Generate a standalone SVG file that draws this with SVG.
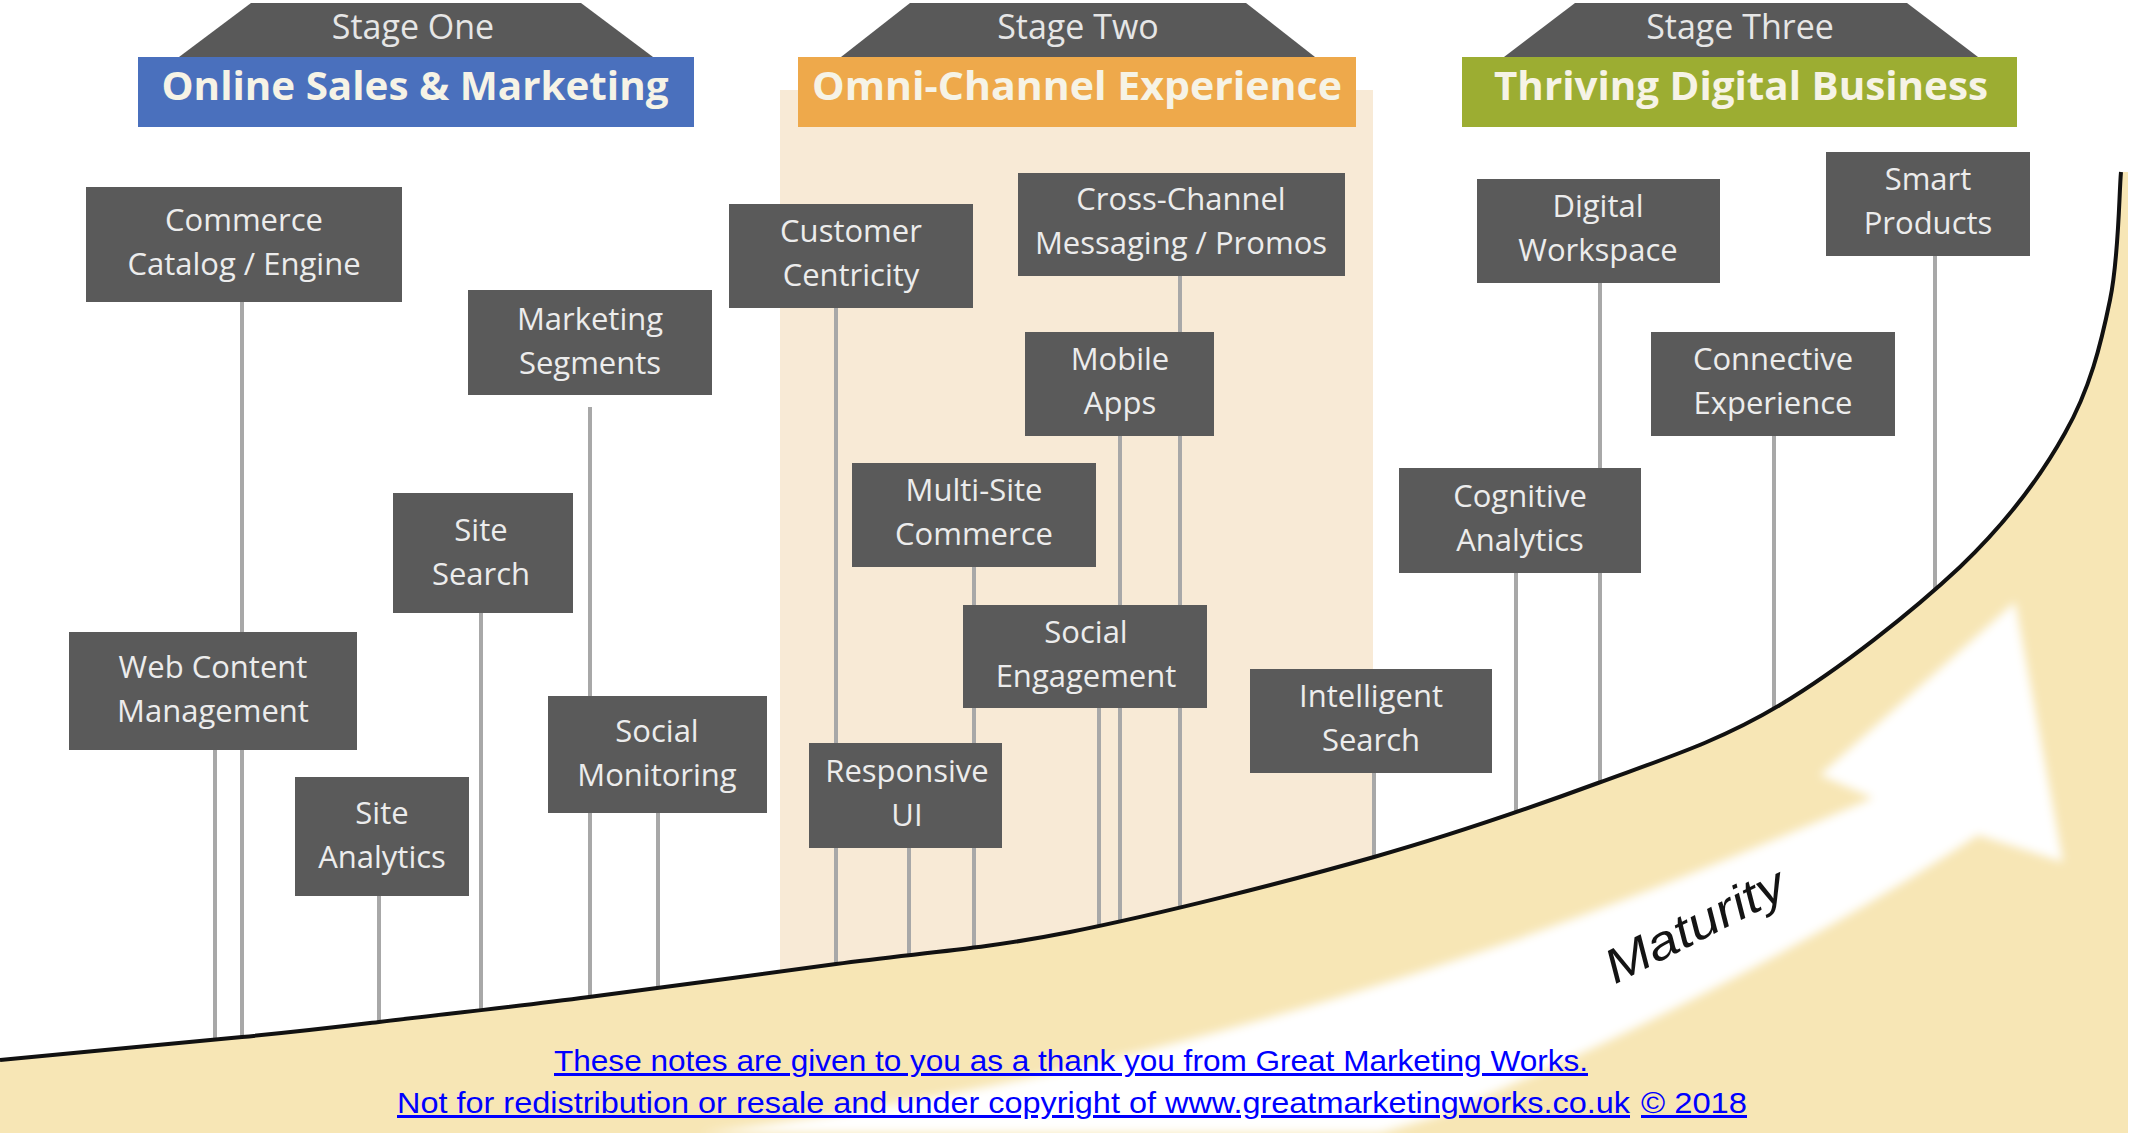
<svg xmlns="http://www.w3.org/2000/svg" width="2136" height="1141" viewBox="0 0 2136 1141">
<defs>
<style>
.box{fill:#5a5a5a}
.bt{font-family:"Open Sans","Liberation Sans",sans-serif;font-size:31px;fill:#ececec;text-anchor:middle}
.trap{fill:#595959}
.st{font-family:"Open Sans","Liberation Sans",sans-serif;font-size:34px;fill:#e6e6e6;text-anchor:middle}
.ht{font-family:"Open Sans","Liberation Sans",sans-serif;font-size:40px;font-weight:bold;fill:#f6f3e6;text-anchor:middle}
.ln{stroke:#a8a8a8;stroke-width:4;fill:none}
.ft{font-family:"Liberation Sans","Open Sans",sans-serif;font-size:30px;fill:#0000ff;text-decoration:underline}
</style>
<filter id="soft" x="-10%" y="-10%" width="120%" height="120%"><feGaussianBlur stdDeviation="5"/></filter>
</defs>
<rect x="0" y="0" width="2136" height="1141" fill="#ffffff"/>
<rect id="stage-two-panel" x="780" y="90" width="593" height="960" fill="#f8ead6"/>
<g id="connectors">
<line class="ln" x1="242" y1="302" x2="242" y2="1100"/>
<line class="ln" x1="215" y1="750" x2="215" y2="1100"/>
<line class="ln" x1="379" y1="896" x2="379" y2="1100"/>
<line class="ln" x1="481" y1="613" x2="481" y2="1100"/>
<line class="ln" x1="590" y1="407" x2="590" y2="1100"/>
<line class="ln" x1="658" y1="813" x2="658" y2="1100"/>
<line class="ln" x1="836" y1="308" x2="836" y2="1100"/>
<line class="ln" x1="909" y1="848" x2="909" y2="1100"/>
<line class="ln" x1="974" y1="567" x2="974" y2="1100"/>
<line class="ln" x1="1099" y1="708" x2="1099" y2="1100"/>
<line class="ln" x1="1120" y1="436" x2="1120" y2="1100"/>
<line class="ln" x1="1180" y1="276" x2="1180" y2="1100"/>
<line class="ln" x1="1374" y1="773" x2="1374" y2="1100"/>
<line class="ln" x1="1516" y1="573" x2="1516" y2="1100"/>
<line class="ln" x1="1600" y1="283" x2="1600" y2="1100"/>
<line class="ln" x1="1774" y1="436" x2="1774" y2="1100"/>
<line class="ln" x1="1935" y1="256" x2="1935" y2="1100"/>
</g>
<path id="maturity-fill" d="M0,1060 C40,1056 179,1043 242,1037 C305,1031 321,1029 379,1022 C437,1015 513,1007 589,997 C665,987 756,975 836,964 C916,953 980,950 1070,932 C1160,914 1286,882 1374,857 C1462,832 1530,808 1598,783 C1666,758 1720,741 1780,705 C1840,669 1912,612 1960,567 C2007,522 2040,478 2065,433 C2090,389 2101,344 2110,300 C2119,257 2119,193 2121,172 L2128,172 L2128,1133 L0,1133 Z" fill="#f7e6b5"/>
<path id="maturity-arrow" d="M700,1133 C900,1110 1150,1060 1435,967 C1600,913 1740,855 1873,798 L1820,775 L2015,602 L2063,862 L1978,835 C1850,920 1650,1030 1435,1117 L1380,1133 Z" fill="#ffffff" filter="url(#soft)"/>
<path id="maturity-curve" d="M0,1060 C40,1056 179,1043 242,1037 C305,1031 321,1029 379,1022 C437,1015 513,1007 589,997 C665,987 756,975 836,964 C916,953 980,950 1070,932 C1160,914 1286,882 1374,857 C1462,832 1530,808 1598,783 C1666,758 1720,741 1780,705 C1840,669 1912,612 1960,567 C2007,522 2040,478 2065,433 C2090,389 2101,344 2110,300 C2119,257 2119,193 2121,172" fill="none" stroke="#111111" stroke-width="4"/>
<text x="1702" y="940" transform="rotate(-27 1702 940)" font-family="'Liberation Sans','Open Sans',sans-serif" font-style="italic" font-size="48" fill="#141414" text-anchor="middle" textLength="196" lengthAdjust="spacingAndGlyphs">Maturity</text>

<g id="stage-one">
<polygon class="trap" points="251,3 581,3 653,57 179,57"/>
<text class="st" x="413" y="39">Stage One</text>
<rect x="138" y="57" width="556" height="70" fill="#4a70bd"/>
<text class="ht" x="415" y="100" textLength="507" lengthAdjust="spacingAndGlyphs">Online Sales &amp; Marketing</text>
</g>
<g id="stage-two">
<polygon class="trap" points="910,3 1246,3 1315,57 841,57"/>
<text class="st" x="1078" y="39">Stage Two</text>
<rect x="798" y="57" width="558" height="70" fill="#eea94b"/>
<text class="ht" x="1077" y="100" textLength="530" lengthAdjust="spacingAndGlyphs">Omni-Channel Experience</text>
</g>
<g id="stage-three">
<polygon class="trap" points="1575,3 1907,3 1978,57 1504,57"/>
<text class="st" x="1740" y="39">Stage Three</text>
<rect x="1462" y="57" width="555" height="70" fill="#9cad32"/>
<text class="ht" x="1741" y="100" textLength="494" lengthAdjust="spacingAndGlyphs">Thriving Digital Business</text>
</g>

<g id="commerce-catalog-engine"><rect class="box" x="86" y="187" width="316" height="115"/><text class="bt" x="244" y="231">Commerce</text><text class="bt" x="244" y="275">Catalog / Engine</text></g>
<g id="marketing-segments"><rect class="box" x="468" y="290" width="244" height="105"/><text class="bt" x="590" y="330">Marketing</text><text class="bt" x="590" y="374">Segments</text></g>
<g id="site-search"><rect class="box" x="393" y="493" width="180" height="120"/><text class="bt" x="481" y="541">Site</text><text class="bt" x="481" y="585">Search</text></g>
<g id="web-content-management"><rect class="box" x="69" y="632" width="288" height="118"/><text class="bt" x="213" y="678">Web Content</text><text class="bt" x="213" y="722">Management</text></g>
<g id="site-analytics"><rect class="box" x="295" y="777" width="174" height="119"/><text class="bt" x="382" y="824">Site</text><text class="bt" x="382" y="868">Analytics</text></g>
<g id="social-monitoring"><rect class="box" x="548" y="696" width="219" height="117"/><text class="bt" x="657" y="742">Social</text><text class="bt" x="657" y="786">Monitoring</text></g>
<g id="customer-centricity"><rect class="box" x="729" y="204" width="244" height="104"/><text class="bt" x="851" y="242">Customer</text><text class="bt" x="851" y="286">Centricity</text></g>
<g id="cross-channel-messaging"><rect class="box" x="1018" y="173" width="327" height="103"/><text class="bt" x="1181" y="210">Cross-Channel</text><text class="bt" x="1181" y="254">Messaging / Promos</text></g>
<g id="mobile-apps"><rect class="box" x="1025" y="332" width="189" height="104"/><text class="bt" x="1120" y="370">Mobile</text><text class="bt" x="1120" y="414">Apps</text></g>
<g id="multi-site-commerce"><rect class="box" x="852" y="463" width="244" height="104"/><text class="bt" x="974" y="501">Multi-Site</text><text class="bt" x="974" y="545">Commerce</text></g>
<g id="social-engagement"><rect class="box" x="963" y="605" width="244" height="103"/><text class="bt" x="1086" y="643">Social</text><text class="bt" x="1086" y="687">Engagement</text></g>
<g id="responsive-ui"><rect class="box" x="809" y="743" width="193" height="105"/><text class="bt" x="907" y="782">Responsive</text><text class="bt" x="907" y="826">UI</text></g>
<g id="intelligent-search"><rect class="box" x="1250" y="669" width="242" height="104"/><text class="bt" x="1371" y="707">Intelligent</text><text class="bt" x="1371" y="751">Search</text></g>
<g id="cognitive-analytics"><rect class="box" x="1399" y="468" width="242" height="105"/><text class="bt" x="1520" y="507">Cognitive</text><text class="bt" x="1520" y="551">Analytics</text></g>
<g id="digital-workspace"><rect class="box" x="1477" y="179" width="243" height="104"/><text class="bt" x="1598" y="217">Digital</text><text class="bt" x="1598" y="261">Workspace</text></g>
<g id="smart-products"><rect class="box" x="1826" y="152" width="204" height="104"/><text class="bt" x="1928" y="190">Smart</text><text class="bt" x="1928" y="234">Products</text></g>
<g id="connective-experience"><rect class="box" x="1651" y="332" width="244" height="104"/><text class="bt" x="1773" y="370">Connective</text><text class="bt" x="1773" y="414">Experience</text></g>

<g id="footer">
<text class="ft" x="554" y="1071" textLength="1034" lengthAdjust="spacingAndGlyphs">These notes are given to you as a thank you from Great Marketing Works.</text>
<text class="ft" x="397" y="1113" textLength="1233" lengthAdjust="spacingAndGlyphs">Not for redistribution or resale and under copyright of www.greatmarketingworks.co.uk</text>
<text class="ft" x="1641" y="1113" textLength="106" lengthAdjust="spacingAndGlyphs">© 2018</text>
</g>
</svg>
